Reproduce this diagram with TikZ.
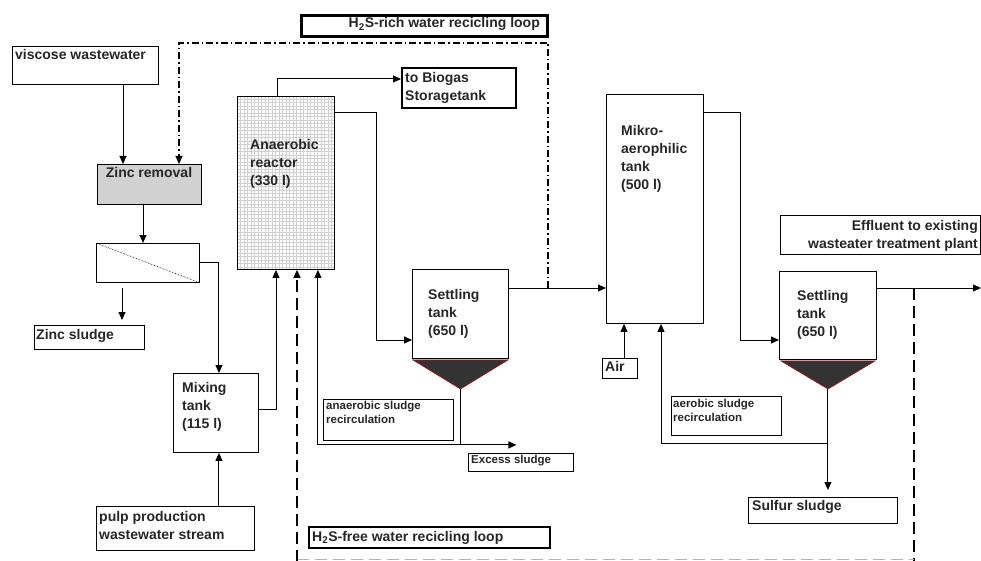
\documentclass[tikz,border=0pt]{standalone}
\usepackage{fontspec}
\setmainfont{Liberation Sans}
\usetikzlibrary{arrows.meta, positioning}

\definecolor{sludgered}{RGB}{150,20,20}

\tikzset{
  box/.style={draw, line width=0.9pt, inner sep=0, anchor=north west},
  loopbox/.style={box, line width=2.6pt},
  lbl/.style={font=\bfseries\fontsize{14}{18}\selectfont, text=black!85, inner sep=0, align=left},
  small/.style={font=\bfseries\fontsize{11.5}{14.5}\selectfont, text=black!85, inner sep=0, align=left},
  line/.style={line width=1pt},
  flow/.style={line, -{Triangle[length=8pt,width=7pt]}},
  richloop/.style={flow, line width=1.1pt, dash pattern=on 7pt off 3pt on 1.5pt off 3pt},
  freeloop/.style={line width=1.5pt, dash pattern=on 12pt off 6pt},
  hopper/.style={fill=black!80, draw=sludgered, line width=0.8pt},
}

\begin{document}
\begin{tikzpicture}[x=1pt, y=-1pt]
  \useasboundingbox (0,0) rectangle (981,561);

  % boxes on the left
  \node[box, minimum width=146, minimum height=38] (visc) at (12,46) {};
  \node[lbl, anchor=base west] (visct) at (15,60) {viscose wastewater};
  \node[box, fill=black!18, minimum width=104, minimum height=40] (zinc) at (97,164) {};
  \node[lbl, anchor=base] (zinct) at (149,178) {Zinc removal};
  \node[box, minimum width=103, minimum height=39] (filt) at (96,243) {};
  \draw[densely dotted, line width=0.6pt] (filt.north west) -- (filt.south east);
  \node[box, minimum width=110, minimum height=24] (zsl) at (34,325) {};
  \node[lbl, anchor=base west] (zslt) at (36,339) {Zinc sludge};
  \node[box, minimum width=85, minimum height=79] (mix) at (173,373) {};
  \node[lbl, anchor=north west] (mixt) at (182,381.8) {Mixing\\tank\\(115 l)};
  \node[box, minimum width=158, minimum height=44] (pulp) at (96,506) {};
  \node[lbl, anchor=north west] (pulpt) at (99,510.8) {pulp production\\wastewater stream};

  % anaerobic stage
  \node[box, minimum width=97, minimum height=173, path picture={
      \draw[black!18, line width=0.3pt, step=3.5pt] (path picture bounding box.south west) grid (path picture bounding box.north east);}] (reac) at (237,96) {};
  \node[lbl, anchor=north west] (react) at (250,138.8) {Anaerobic\\reactor\\(330 l)};
  \node[loopbox, line width=2pt, minimum width=114, minimum height=40] (bio) at (401,67) {};
  \node[lbl, anchor=north west] (biot) at (405,71.8) {to Biogas\\Storagetank};
  \node[loopbox, minimum width=246, minimum height=21] (rich) at (300,14) {};
  \node[lbl, anchor=base east] (richt) at (540,28) {H\textsubscript{2}S-rich water recicling loop};
  \node[box, minimum width=96, minimum height=89] (set1) at (412,269) {};
  \node[lbl, anchor=north west] (set1t) at (428,288.8) {Settling\\tank\\(650 l)};
  \coordinate (hop1) at ([yshift=-30]set1.south);
  \filldraw[hopper] ([xshift=1,yshift=-1]set1.south west) -- ([xshift=-1,yshift=-1]set1.south east) -- (hop1) -- cycle;
  \node[box, minimum width=130, minimum height=41] (arec) at (323,399) {};
  \node[small, anchor=north west] (arect) at (326,400.6) {anaerobic sludge\\recirculation};
  \node[box, minimum width=105, minimum height=18] (exc) at (468,453) {};
  \node[small, anchor=base west] (exct) at (471,463) {Excess sludge};
  \node[loopbox, line width=2pt, minimum width=241, minimum height=21] (free) at (308,526) {};
  \node[lbl, anchor=base west] (freet) at (312,541) {H\textsubscript{2}S-free water recicling loop};

  % aerobic stage
  \node[box, minimum width=97, minimum height=229] (mikro) at (606,94) {};
  \node[lbl, anchor=north west] (mikrot) at (621,124.8) {Mikro-\\aerophilic\\tank\\(500 l)};
  \node[box, minimum width=35, minimum height=20] (air) at (602,358) {};
  \node[lbl, anchor=base west] (airt) at (605,371) {Air};
  \node[box, minimum width=97, minimum height=88] (set2) at (779,271) {};
  \node[lbl, anchor=north west] (set2t) at (797,289.8) {Settling\\tank\\(650 l)};
  \coordinate (hop2) at ([yshift=-29]set2.south);
  \filldraw[hopper] ([xshift=2,yshift=-1]set2.south west) -- ([xshift=-2,yshift=-1]set2.south east) -- (hop2) -- cycle;
  \node[box, minimum width=110, minimum height=39] (aer) at (671,396) {};
  \node[small, anchor=north west] (aert) at (673,398.6) {aerobic sludge\\recirculation};
  \node[box, minimum width=149, minimum height=26] (sul) at (748,497) {};
  \node[lbl, anchor=base west] (sult) at (752,510) {Sulfur sludge};
  \node[box, minimum width=200, minimum height=39] (eff) at (780,215) {};
  \node[lbl, anchor=north east, align=right] (efft) at (978,219.8) {Effluent to existing\\wasteater treatment plant};

  % connection points
  \coordinate (s1out) at ([yshift=-19]set1.north east);
  \coordinate (s2out) at ([yshift=-17]set2.north east);
  \coordinate (effend) at (981,288);
  \coordinate (dd) at (548,43);
  \coordinate (rin3) at ([xshift=-17]reac.south east);
  \coordinate (ex1) at ([yshift=-56]hop1);
  \coordinate (ar1) at ([yshift=-55]hop2);
  \coordinate (fl0) at (297,559);
  \coordinate (fl1) at (914,559);

  % left side flows
  \draw[flow] ([xshift=111]visc.south west) -- ([xshift=111]visc.south west |- zinc.north);
  \draw[flow] ([xshift=46]zinc.south west) -- ([xshift=46]zinc.south west |- filt.north);
  \draw[flow, shorten <=5, shorten >=5] ([xshift=26]filt.south west) -- ([xshift=26]filt.south west |- zsl.north);
  \draw[flow] (filt.east) -| ([xshift=3]mix.north);
  \draw[flow] ([xshift=3]mix.south |- pulp.north) -- ([xshift=3]mix.south);
  \draw[flow] ([yshift=3]mix.east) -| ([xshift=39]reac.south west);

  % anaerobic flows
  \draw[flow] ([xshift=40]reac.north west) |- ([yshift=9]bio.west);
  \draw[flow] ([yshift=-17]reac.north east) -- ++(42,0) |- ([yshift=-71]set1.north west);
  \draw[flow] (s1out) -- (s1out -| mikro.west);
  \draw[line] (hop1) -- (ex1);
  \draw[flow] (ex1) -| (rin3);
  \draw[flow] (rin3 |- ex1) -- ([xshift=56]ex1);
  \draw[richloop] (s1out -| dd) -- (dd) -| ([xshift=82]zinc.north west);

  % aerobic flows
  \draw[flow] ([yshift=-19]mikro.north east) -- ++(37,0) |- ([yshift=-69]set2.north west);
  \draw[flow] (s2out) -- (effend);
  \draw[flow] ([xshift=22]air.north west) -- ([xshift=22]air.north west |- mikro.south);
  \draw[flow, shorten >=7] (hop2) -- (hop2 |- sul.north);
  \draw[flow] (ar1) -| ([xshift=55]mikro.south west);

  % H2S-free loop
  \draw[freeloop] (s2out -| fl1) -- ([yshift=-3]fl1);
  \draw[freeloop, black!30, line width=1pt] (fl0) -- (fl1);
  \draw[freeloop, -{Triangle[length=8pt,width=7pt]}] ([yshift=-3]fl0) -- (fl0 |- reac.south);
\end{tikzpicture}
\end{document}
